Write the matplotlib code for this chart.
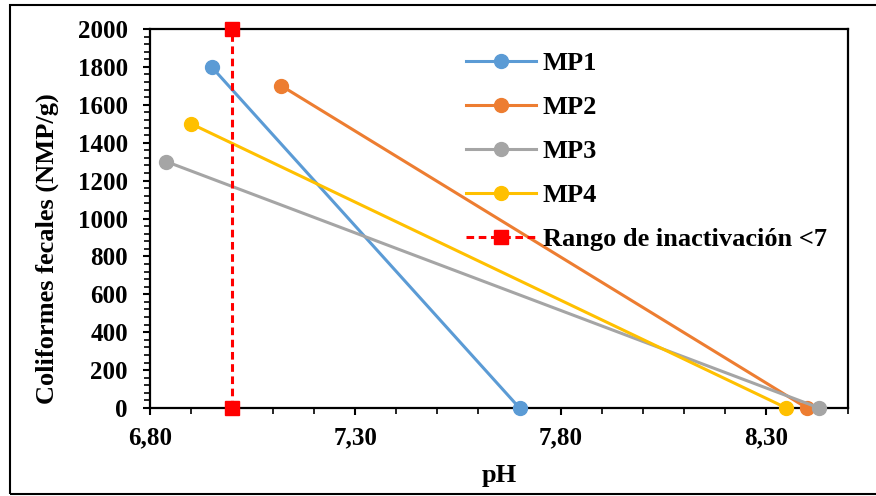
import matplotlib
matplotlib.use("Agg")
import matplotlib.pyplot as plt
from matplotlib.ticker import MultipleLocator, FuncFormatter
from matplotlib.patches import Rectangle

# Fecal coliforms versus pH for each sampling point
series_names = ["MP1", "MP2", "MP3", "MP4"]
ph_values = [
    [6.95, 7.70],
    [7.12, 8.40],
    [6.84, 8.43],
    [6.90, 8.35],
]
coliform_values = [
    [1800, 0],
    [1700, 0],
    [1300, 0],
    [1500, 0],
]
series_colors = ["#5B9BD5", "#ED7D31", "#A5A5A5", "#FFC000"]

threshold_label = "Rango de inactivación <7"
threshold_ph = [7.0, 7.0]
threshold_coliforms = [0, 2000]

x_ticks = [6.80, 7.30, 7.80, 8.30]

plt.rcParams["font.family"] = ["Liberation Serif", "DejaVu Serif"]
plt.rcParams["font.weight"] = "bold"

fig = plt.figure(figsize=(8.76, 4.96), dpi=100)
ax = fig.add_axes([150 / 876, 1 - 408 / 496, (848 - 150) / 876, (408 - 29) / 496])

for name, xs, ys, c in zip(series_names, ph_values, coliform_values, series_colors):
    ax.plot(xs, ys, color=c, linewidth=2.2, marker="o", markersize=10,
            label=name, clip_on=False, zorder=3)

ax.plot(threshold_ph, threshold_coliforms, color="#FF0000", linewidth=2.2,
        linestyle=(0, (2.5, 1.5)), marker="s", markersize=9.5, label=threshold_label,
        clip_on=False, zorder=4)

ax.set_xlim(6.80, 8.50)
ax.set_ylim(0, 2000)
ax.set_xticks(x_ticks)
ax.xaxis.set_minor_locator(MultipleLocator(0.1))
ax.yaxis.set_major_locator(MultipleLocator(200))
ax.yaxis.set_minor_locator(MultipleLocator(40))
ax.xaxis.set_major_formatter(FuncFormatter(lambda v, p: f"{v:.2f}".replace(".", ",")))

ax.tick_params(axis="both", which="major", direction="out", length=5, width=1.5,
               labelsize=18, colors="black")
ax.tick_params(axis="both", which="minor", direction="out", length=4, width=1.2)
ax.tick_params(axis="x", which="major", pad=8)
ax.tick_params(axis="y", which="major", pad=11)
for lbl in ax.get_xticklabels() + ax.get_yticklabels():
    lbl.set_fontweight("bold")

for s in ax.spines.values():
    s.set_linewidth(1.6)
    s.set_color("black")

ax.set_xlabel("pH", fontsize=19, fontweight="bold")
ax.xaxis.set_label_coords(0.5, -(464 - 408) / 379)
ax.set_ylabel("Coliformes fecales (NMP/g)", fontsize=19, fontweight="bold")
ax.yaxis.set_label_coords(-(150 - 59) / 698, (408 - 249) / 379)

leg = ax.legend(loc="upper left", bbox_to_anchor=(0.42, 1.0), frameon=False,
                prop={"family": "Liberation Serif", "weight": "bold", "size": 19},
                handlelength=2.65, labelspacing=0.78, handletextpad=0.27,
                borderaxespad=0.45)

# outer frame around the figure
fig.patches.append(Rectangle((10 / 876, 2 / 496), 1.0, 1 - 7 / 496,
                             transform=fig.transFigure, fill=False,
                             edgecolor="black", linewidth=1.5))

fig.savefig("out.png", dpi=100)
